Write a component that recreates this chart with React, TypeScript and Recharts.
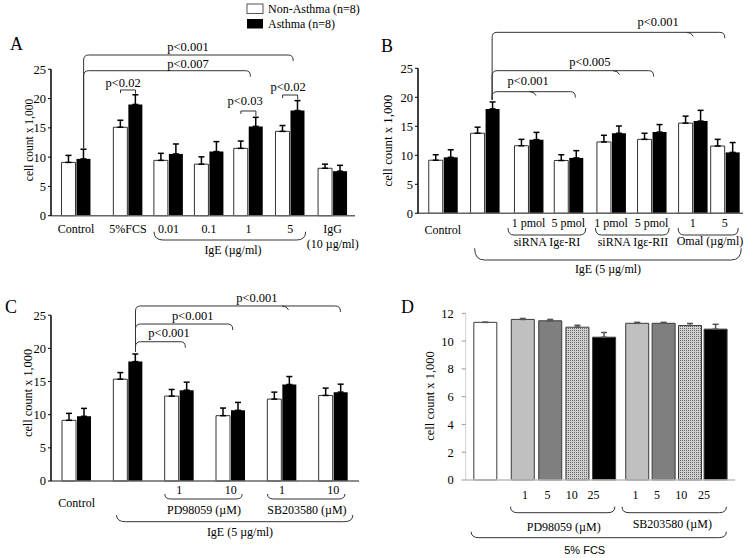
import React from 'react';
import { BarChart, Bar, XAxis, YAxis, ErrorBar, Cell } from 'recharts';

// ================= DATA =================
// Panel A
const categoriesA = ['Control', '5%FCS', '0.01', '0.1', '1', '5', 'IgG'];
const tickLabelsA = ['Control', '5%FCS', '0.01', '0.1', '1', '5', 'IgG\n(10 µg/ml)'];
const nonAsthmaA = [9.1, 15.1, 9.45, 8.8, 11.5, 14.4, 8.1];
const asthmaA = [9.7, 19.0, 10.55, 10.95, 15.25, 17.95, 7.6];
const nonAsthmaErrA = [1.2, 1.2, 1.2, 1.25, 1.25, 1.0, 0.7];
const asthmaErrA = [1.65, 1.65, 1.7, 1.7, 1.55, 1.7, 1.0];

// Panel B
const categoriesB = ['Control', 'IgE', 'RI 1 pmol', 'RI 5 pmol', 'RII 1 pmol', 'RII 5 pmol', 'Omal 1', 'Omal 5'];
const tickLabelsB = ['Control', '', '1 pmol', '5 pmol', '1 pmol', '5 pmol', '1', '5'];
const nonAsthmaB = [9.15, 13.8, 11.65, 9.1, 12.3, 12.75, 15.55, 11.6];
const asthmaB = [9.65, 18.0, 12.7, 9.55, 13.8, 14.0, 15.9, 10.5];
const nonAsthmaErrB = [0.95, 1.05, 1.1, 1.0, 1.15, 1.05, 1.2, 1.15];
const asthmaErrB = [1.3, 1.2, 1.25, 1.25, 1.25, 1.3, 1.85, 1.7];

// Panel C
const categoriesC = ['Control', 'IgE', 'PD 1', 'PD 10', 'SB 1', 'SB 10'];
const tickLabelsC = ['Control', '', '1', '10', '1', '10'];
const nonAsthmaC = [9.15, 15.35, 12.8, 9.85, 12.35, 12.9];
const asthmaC = [9.75, 18.0, 13.7, 10.65, 14.55, 13.4];
const nonAsthmaErrC = [1.05, 1.0, 1.0, 1.15, 1.05, 1.1];
const asthmaErrC = [1.2, 1.15, 1.2, 1.2, 1.2, 1.2];

// Panel D
const categoriesD = ['5% FCS', 'PD 1', 'PD 5', 'PD 10', 'PD 25', 'SB 1', 'SB 5', 'SB 10', 'SB 25'];
const tickLabelsD = ['', '1', '5', '10', '25', '1', '5', '10', '25'];
const valuesD = [11.35, 11.56, 11.46, 11.0, 10.28, 11.28, 11.28, 11.12, 10.86];
const errD = [0, 0.07, 0.1, 0.14, 0.34, 0.07, 0.07, 0.15, 0.35];

const yTicks25 = [0, 5, 10, 15, 20, 25];
const yTicks12 = [0, 2, 4, 6, 8, 10, 12];

// ================= LAYOUT (not data) =================
const W = 746, H = 558, YW = 40, XH = 30;
const SERIF = '"Liberation Serif", "Times New Roman", serif';
const SANS = '"Liberation Sans", Arial, sans-serif';
const BAR = 14, GAP = 1;

type Panel = { x0: number; x1: number; dmax: number; yTop: number; y0: number; ymax: number };
const PA: Panel = { x0: 51, x1: 355, dmax: 7.5, yTop: 69.3, y0: 215.7, ymax: 25 };
const PB: Panel = { x0: 418, x1: 743, dmax: 8, yTop: 68.3, y0: 213.3, ymax: 25 };
const PC: Panel = { x0: 51, x1: 359, dmax: 6, yTop: 315.2, y0: 481, ymax: 25 };
const PD: Panel = { x0: 465.7, x1: 735, dmax: 10, yTop: 313.3, y0: 480, ymax: 12 };

const slotsA = [0.62, 1.9, 2.9, 3.9, 4.87, 5.9, 6.95];
const slotsB = [0.61, 1.64, 2.72, 3.7, 4.75, 5.75, 6.76, 7.55];
const slotsC = [0.5, 1.5, 2.5, 3.5, 4.5, 5.5];
const slotsD = [0.74, 2.13, 3.15, 4.16, 5.15, 6.38, 7.36, 8.34, 9.29];
const labelDxD = [0, 2, -3, -6, -11, -2, -7, -9, -12];
const fillD = ['#ffffff', '#c0c0c0', '#7f7f7f', 'url(#dotsD)', '#000000', '#c0c0c0', '#7f7f7f', 'url(#dotsD)', '#000000'];

const sx = (p: Panel, u: number) => p.x0 + (u / p.dmax) * (p.x1 - p.x0);
const sy = (p: Panel, v: number) => p.y0 - (v / p.ymax) * (p.y0 - p.yTop);
const pairC = (p: Panel, slots: number[], i: number) => sx(p, slots[i]);
const whiteC = (p: Panel, s: number[], i: number) => pairC(p, s, i) - (BAR + GAP) / 2;
const blackC = (p: Panel, s: number[], i: number) => pairC(p, s, i) + (BAR + GAP) / 2;
const whiteL = (p: Panel, s: number[], i: number) => pairC(p, s, i) - BAR - GAP / 2;
const blackR = (p: Panel, s: number[], i: number) => pairC(p, s, i) + BAR + GAP / 2;

const marginFor = (p: Panel) => ({ top: p.yTop, right: W - p.x1, left: p.x0 - YW, bottom: H - p.y0 - XH });

const buildPairRows = (cats: string[], slots: number[], n: number[], a: number[], en: number[], ea: number[]) =>
  cats.map((c, i) => ({ name: c, pos: slots[i], nonAsthma: n[i], asthma: a[i], errN: [0, en[i]], errA: [0, ea[i]] }));

const rowsA = buildPairRows(categoriesA, slotsA, nonAsthmaA, asthmaA, nonAsthmaErrA, asthmaErrA);
const rowsB = buildPairRows(categoriesB, slotsB, nonAsthmaB, asthmaB, nonAsthmaErrB, asthmaErrB);
const rowsC = buildPairRows(categoriesC, slotsC, nonAsthmaC, asthmaC, nonAsthmaErrC, asthmaErrC);
const rowsD = categoriesD.map((c, i) => ({ name: c, pos: slotsD[i], value: valuesD[i], err: [0, errD[i]] }));

function nearestIdx(slots: number[], v: number) {
  let idx = 0, best = Infinity;
  slots.forEach((s, i) => { const d = Math.abs(s - v); if (d < best) { best = d; idx = i; } });
  return idx;
}

function makeTick(slots: number[], labels: string[], baseY: (i: number) => number, dx: (i: number) => number = () => 0) {
  return (props: any) => {
    const idx = nearestIdx(slots, props.payload?.value);
    const lines = labels[idx].split('\n');
    const x = props.x + dx(idx);
    return (
      <text x={x} y={baseY(idx)} textAnchor="middle" fontFamily={SERIF} fontSize={12} fill="#000">
        {lines.map((l, k) => (
          <tspan key={k} x={x} dy={k === 0 ? 0 : 15}>{l}</tspan>
        ))}
      </text>
    );
  };
}

const tickA = makeTick(slotsA, tickLabelsA, () => 232.5);
const tickB = makeTick(slotsB, tickLabelsB, (i) => (i === 0 ? 233.5 : 227));
const tickC = makeTick(slotsC, tickLabelsC, (i) => (i === 0 ? 506.5 : 494));
const tickD = makeTick(slotsD, tickLabelsD, () => 499, (i) => labelDxD[i]);

function PairChart({ p, rows, slots, tick }: { p: Panel; rows: any[]; slots: number[]; tick: any }) {
  return (
    <div style={{ position: 'absolute', left: 0, top: 0 }}>
      <BarChart width={W} height={H} data={rows} margin={marginFor(p)} barGap={GAP} barSize={BAR}>
        <XAxis
          type="number"
          dataKey="pos"
          domain={[0, p.dmax]}
          ticks={slots}
          interval={0}
          height={XH}
          axisLine={{ stroke: '#666', strokeWidth: 1.5 }}
          tickLine={false}
          tick={tick}
        />
        <YAxis
          type="number"
          domain={[0, p.ymax]}
          ticks={yTicks25}
          interval={0}
          width={YW}
          axisLine={{ stroke: '#000', strokeWidth: 1.5 }}
          tickLine={{ stroke: '#000' }}
          tickSize={3}
          tickMargin={2}
          tick={{ fontFamily: SERIF, fontSize: 12.5, fill: '#000' }}
        />
        <Bar dataKey="nonAsthma" fill="#ffffff" stroke="#333" strokeWidth={1} isAnimationActive={false}>
          <ErrorBar dataKey="errN" width={3} stroke="#000" strokeWidth={1.5} direction="y" />
        </Bar>
        <Bar dataKey="asthma" fill="#000000" isAnimationActive={false}>
          <ErrorBar dataKey="errA" width={3} stroke="#000" strokeWidth={1.5} direction="y" />
        </Bar>
      </BarChart>
    </div>
  );
}

function ChartD() {
  return (
    <div style={{ position: 'absolute', left: 0, top: 0 }}>
      <BarChart width={W} height={H} data={rowsD} margin={marginFor(PD)} barSize={23}>
        <defs>
          <pattern id="dotsD" width="2" height="2" patternUnits="userSpaceOnUse">
            <rect width="2" height="2" fill="#cfcfcf" />
            <rect width="1" height="1" fill="#6a6a6a" />
          </pattern>
        </defs>
        <XAxis
          type="number"
          dataKey="pos"
          domain={[0, PD.dmax]}
          ticks={slotsD}
          interval={0}
          height={XH}
          axisLine={{ stroke: '#bdbdbd', strokeWidth: 1.5 }}
          tickLine={false}
          tick={tickD}
        />
        <YAxis
          type="number"
          domain={[0, PD.ymax]}
          ticks={yTicks12}
          interval={0}
          width={YW}
          axisLine={{ stroke: '#d0d0d0' }}
          tickLine={{ stroke: '#999' }}
          tickSize={4}
          tickMargin={8}
          tick={{ fontFamily: SERIF, fontSize: 12.5, fill: '#000' }}
        />
        <Bar dataKey="value" stroke="#3a3a3a" strokeWidth={1} isAnimationActive={false}>
          {rowsD.map((r, i) => (
            <Cell key={r.name} fill={fillD[i]} />
          ))}
          <ErrorBar dataKey="err" width={3} stroke="#555" strokeWidth={1.5} direction="y" />
        </Bar>
      </BarChart>
    </div>
  );
}

// ================= ANNOTATIONS =================
const STK = '#333';

function T({ x, y, children, size = 12, anchor = 'middle', family = SERIF }: any) {
  return (
    <text x={x} y={y} fontSize={size} fontFamily={family} textAnchor={anchor} fill="#000">
      {children}
    </text>
  );
}

function Sig({ xl, xr, yLine, yLeftBottom, notches = [], r = 5, drop = 6 }: any) {
  let d = `M${xl},${yLeftBottom} L${xl},${yLine + r} Q${xl},${yLine} ${xl + r},${yLine} L${xr - r},${yLine} Q${xr},${yLine} ${xr},${yLine + r} L${xr},${yLine + drop}`;
  notches.forEach((nx: number) => {
    d += ` M${nx - 5},${yLine} Q${nx},${yLine} ${nx + 1.5},${yLine + 4}`;
  });
  return <path d={d} fill="none" stroke={STK} strokeWidth={1} />;
}

function Small({ xl, xr, yLine, yRightBottom }: any) {
  const d = `M${xl},${yLine + 3} L${xl},${yLine} L${xr},${yLine} L${xr},${yRightBottom}`;
  return <path d={d} fill="none" stroke={STK} strokeWidth={1} />;
}

function Brace({ xl, xr, yT, yB, r = 7 }: any) {
  const d = `M${xl},${yT} Q${xl},${yB} ${xl + r},${yB} L${xr - r},${yB} Q${xr},${yB} ${xr},${yT}`;
  return <path d={d} fill="none" stroke={STK} strokeWidth={1} />;
}

function YLabel({ x, y, size }: any) {
  return (
    <text transform={`translate(${x},${y}) rotate(-90)`} textAnchor="middle" fontFamily={SERIF} fontSize={size} fill="#000">
      cell count x 1,000
    </text>
  );
}

function Annotations() {
  // Panel A
  const aLeft = blackC(PA, slotsA, 0);
  const aLeftBottom = sy(PA, asthmaA[0] + asthmaErrA[0]) - 1;
  const aY1 = sy(PA, 27.44);
  const aY2 = sy(PA, 24.76);
  const smallA = [
    { i: 1, v: 21.47, tx: 1.78, dy: -3 },
    { i: 4, v: 17.88, tx: 4.79, dy: -5.5 },
    { i: 5, v: 20.61, tx: 5.85, dy: -4 },
  ];
  // Panel B
  const bLeft = blackC(PB, slotsB, 1);
  const bLeftBottom = sy(PB, asthmaB[1] + asthmaErrB[1]) - 2;
  const bY1 = sy(PB, 31.2), bY2 = sy(PB, 24.59), bY3 = sy(PB, 20.97);
  // Panel C
  const cLeft = blackC(PC, slotsC, 1);
  const cLeftBottom = sy(PC, asthmaC[1] + asthmaErrC[1]) - 2;
  const cY1 = sy(PC, 26.39), cY2 = sy(PC, 23.67), cY3 = sy(PC, 21.0);
  // Panel D bar edges
  const dL = (i: number) => sx(PD, slotsD[i]) - 11.5;
  const dR = (i: number) => sx(PD, slotsD[i]) + 11.5;

  return (
    <svg width={W} height={H} style={{ position: 'absolute', left: 0, top: 0, pointerEvents: 'none' }}>
      {/* Legend */}
      <rect x={247} y={4} width={16} height={9.5} fill="#fff" stroke="#555" strokeWidth={1} />
      <T x={268} y={12.5} anchor="start">Non-Asthma (n=8)</T>
      <rect x={247} y={19} width={16} height={9.5} fill="#000" />
      <T x={268} y={28} anchor="start">Asthma (n=8)</T>

      {/* Panel letters */}
      <T x={10} y={50} size={18} anchor="start">A</T>
      <T x={381} y={52} size={18} anchor="start">B</T>
      <T x={5} y={313} size={18} anchor="start">C</T>
      <T x={401} y={313} size={18} anchor="start">D</T>

      {/* Y labels */}
      <YLabel x={33} y={140} size={11.5} />
      <YLabel x={391.5} y={140.7} size={12.8} />
      <YLabel x={32} y={393} size={12.3} />
      <YLabel x={433.5} y={396} size={12.5} />

      {/* ---- Panel A ---- */}
      <Sig xl={aLeft} xr={pairC(PA, slotsA, 5) + 3} yLine={aY1} yLeftBottom={aLeftBottom} />
      <Sig xl={aLeft} xr={pairC(PA, slotsA, 4) + 2} yLine={aY2} yLeftBottom={aLeftBottom} />
      <T x={sx(PA, 3.38)} y={aY1 - 4} size={12.5}>p&lt;0.001</T>
      <T x={sx(PA, 3.38)} y={aY2 - 3} size={12.5}>p&lt;0.007</T>
      {smallA.map((s) => (
        <g key={s.i}>
          <Small
            xl={whiteC(PA, slotsA, s.i)}
            xr={blackC(PA, slotsA, s.i)}
            yLine={sy(PA, s.v)}
            yRightBottom={sy(PA, asthmaA[s.i] + asthmaErrA[s.i]) - 1}
          />
          <T x={sx(PA, s.tx)} y={sy(PA, s.v) + s.dy} size={12.5}>p&lt;{s.i === 4 ? '0.03' : '0.02'}</T>
        </g>
      ))}
      <Brace xl={whiteL(PA, slotsA, 2)} xr={blackR(PA, slotsA, 5) + 1} yT={231.7} yB={240} r={9} />
      <T x={233} y={254}>IgE (µg/ml)</T>

      {/* ---- Panel B ---- */}
      <Sig xl={bLeft} xr={pairC(PB, slotsB, 7)} yLine={bY1} yLeftBottom={bLeftBottom} notches={[pairC(PB, slotsB, 6) - 1]} />
      <Sig xl={bLeft} xr={pairC(PB, slotsB, 5) + 2} yLine={bY2} yLeftBottom={bLeftBottom} notches={[pairC(PB, slotsB, 4) + 7]} />
      <Sig xl={bLeft} xr={pairC(PB, slotsB, 3) + 7} yLine={bY3} yLeftBottom={bLeftBottom} notches={[pairC(PB, slotsB, 2) + 6]} />
      <T x={sx(PB, 5.91)} y={bY1 - 6.6} size={12.5}>p&lt;0.001</T>
      <T x={sx(PB, 4.23)} y={bY2 - 4.2} size={12.5}>p&lt;0.005</T>
      <T x={sx(PB, 2.71)} y={bY3 - 6.9} size={12.5}>p&lt;0.001</T>
      <Brace xl={whiteL(PB, slotsB, 2) - 6} xr={blackR(PB, slotsB, 3) + 3} yT={228} yB={235} r={6} />
      <Brace xl={whiteL(PB, slotsB, 4) - 1} xr={blackR(PB, slotsB, 5) + 3} yT={228} yB={235} r={6} />
      <Brace xl={whiteL(PB, slotsB, 6)} xr={blackR(PB, slotsB, 7) - 1} yT={228} yB={235} r={6} />
      <T x={547} y={246}>siRNA Igε-RI</T>
      <T x={633} y={246}>siRNA Igε-RII</T>
      <T x={710} y={244.5}>Omal (µg/ml)</T>
      <Brace xl={whiteL(PB, slotsB, 1) + 4.5} xr={blackR(PB, slotsB, 7) + 2} yT={248.3} yB={260} r={10} />
      <T x={608} y={273.3}>IgE (5 µg/ml)</T>

      {/* ---- Panel C ---- */}
      <Sig xl={cLeft} xr={pairC(PC, slotsC, 5) + 7} yLine={cY1} yLeftBottom={cLeftBottom} notches={[pairC(PC, slotsC, 4) + 5]} />
      <Sig xl={cLeft} xr={pairC(PC, slotsC, 3) + 2} yLine={cY2} yLeftBottom={cLeftBottom} />
      <Sig xl={cLeft} xr={pairC(PC, slotsC, 2) + 6} yLine={cY3} yLeftBottom={cLeftBottom} />
      <T x={sx(PC, 4.01)} y={cY1 - 4} size={12.5}>p&lt;0.001</T>
      <T x={sx(PC, 2.76)} y={cY2 - 4} size={12.5}>p&lt;0.001</T>
      <T x={sx(PC, 2.3)} y={cY3 - 4.5} size={12.5}>p&lt;0.001</T>
      <Brace xl={whiteL(PC, slotsC, 2)} xr={blackR(PC, slotsC, 3) - 3} yT={494} yB={499} r={6} />
      <Brace xl={whiteL(PC, slotsC, 4)} xr={blackR(PC, slotsC, 5) - 3} yT={494} yB={499} r={6} />
      <T x={204} y={514}>PD98059 (µM)</T>
      <T x={307} y={514}>SB203580 (µM)</T>
      <Brace xl={whiteL(PC, slotsC, 1) + 3} xr={blackR(PC, slotsC, 5) + 5} yT={515} yB={521.7} r={9} />
      <T x={240} y={535.7}>IgE (5 µg/ml)</T>

      {/* ---- Panel D ---- */}
      <Brace xl={dL(1) - 1} xr={dR(4) - 1} yT={506.7} yB={512.7} r={7} />
      <Brace xl={dL(5) - 4} xr={dR(8) - 1} yT={506.7} yB={512.7} r={7} />
      <T x={563.7} y={530.7}>PD98059 (µM)</T>
      <T x={672.3} y={528.3}>SB203580 (µM)</T>
      <Brace xl={dL(0) - 3} xr={dR(8) - 1} yT={531.7} yB={537.7} r={8} />
      <T x={584.7} y={554} size={11} family={SANS}>5% FCS</T>
    </svg>
  );
}

export default function App() {
  return (
    <div style={{ position: 'absolute', left: 0, top: 0, width: W, height: H, background: '#fff' }}>
      <PairChart p={PA} rows={rowsA} slots={slotsA} tick={tickA} />
      <PairChart p={PB} rows={rowsB} slots={slotsB} tick={tickB} />
      <PairChart p={PC} rows={rowsC} slots={slotsC} tick={tickC} />
      <ChartD />
      <Annotations />
    </div>
  );
}
